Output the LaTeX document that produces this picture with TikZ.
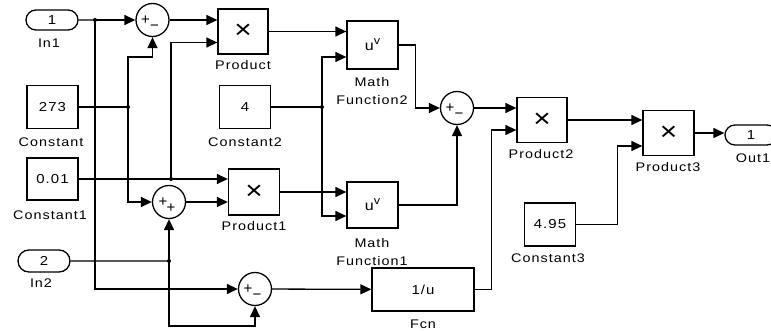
\documentclass[tikz,border=0pt]{standalone}
\usepackage{fontspec}
\setmainfont{Liberation Sans}
\newfontfamily\lf[FakeStretch=1.15,LetterSpace=8]{Liberation Sans}
\usetikzlibrary{arrows.meta,shapes.misc,calc}
\begin{document}
\begin{tikzpicture}[x=1pt,y=-1pt,
 line width=1.3pt,
 blk/.style={draw,rectangle,inner sep=0,minimum width=51pt,minimum height=44pt,font=\lf\fontsize{13}{15}\selectfont},
 sumc/.style={draw,circle,minimum size=33pt,inner sep=0,font=\fontsize{15}{15}\selectfont},
 port/.style={draw,rounded rectangle,minimum width=52pt,minimum height=20pt,inner sep=0,font=\lf\fontsize{13}{15}\selectfont},
 lbl/.style={font=\lf\fontsize{12.5}{18}\selectfont,align=center,inner sep=0},
 arr/.style={-{Triangle[length=11pt,width=10pt]}},
 dot/.style={circle,fill,inner sep=0,minimum size=4pt}
]
\useasboundingbox (0,0) rectangle (771,331);
\clip (0,0) rectangle (771,331);
\newcommand{\tms}{{\fontsize{26}{26}\selectfont ×}}
\newcommand{\uv}{{\fontsize{14}{14}\selectfont u\raisebox{6pt}{\fontsize{11}{11}\selectfont v}}}
\newcommand{\pmsign}{\rule{0pt}{15pt}\hspace*{-5pt}+\raisebox{-6pt}{−}}
\newcommand{\ppsign}{\rule{0pt}{15pt}\hspace*{-4pt}+\hspace*{-1pt}\raisebox{-6pt}{+}}
% ports
\node[port] (in1) at (52,20) {1};
\node[lbl] at (49,43) {In1};
\node[port,minimum height=22pt] (in2) at (44,261) {2};
\node[lbl] at (41,283) {In2};
\node[port] (out) at (751,135) {1};
\node[lbl] at (753,158) {Out1};
% constants
\node[blk,minimum height=43pt] (c0) at (52.5,107) {273};
\node[lbl] at (51,142) {Constant};
\node[blk,minimum height=42pt] (c1) at (52.5,179) {0.01};
\node[lbl] at (50,215) {Constant1};
\node[blk,minimum height=43pt] (c2) at (245,107) {4};
\node[lbl] at (245,142) {Constant2};
\node[blk,minimum height=43pt] (c3) at (550,224.5) {4.95};
\node[lbl] at (548,258) {Constant3};
% sums
\node[sumc] (s1) at (152.5,20) {\pmsign};
\node[sumc] (s2) at (169,202) {\ppsign};
\node[sumc] (s3) at (255,289) {\pmsign};
\node[sumc] (s4) at (457,108) {\pmsign};
% products and functions
\node[blk,minimum width=50pt,minimum height=45pt] (p) at (243,31.5) {\tms};
\node[lbl] at (243,65) {Product};
\node[blk,minimum height=46pt] (p1) at (254,192) {\tms};
\node[lbl] at (254,226) {Product1};
\node[blk,minimum height=48pt] (mf2) at (372.5,45) {\uv};
\node[lbl] at (372,91) {Math\\Function2};
\node[blk,minimum height=46pt] (mf1) at (372.5,205) {\uv};
\node[lbl] at (372,252) {Math\\Function1};
\node[blk,minimum width=102pt,minimum height=43pt] (fcn) at (423,289.5) {1/u};
\node[lbl] at (423,324) {Fcn};
\node[blk,minimum width=50pt,minimum height=45pt] (p2) at (542,120) {\tms};
\node[lbl] at (541,154) {Product2};
\node[blk,minimum height=45pt] (p3) at (668.5,133) {\tms};
\node[lbl] at (668,167) {Product3};
% junctions
\coordinate (j1) at (95,20);
\coordinate (j2) at (128,107);
\coordinate (k1) at (128,57);
\coordinate (j3) at (171,179);
\coordinate (j4) at (169,261);
\coordinate (k2) at (169,326);
\coordinate (j5) at (322,107);
\foreach \j in {j1,j2,j3,j4,j5} \node[dot] at (\j) {};
% connectors
\draw (in1) -- (j1);
\draw[arr] (j1) -- (s1);
\draw[arr] (j1) |- (s3);
\draw (c0) -- (j2);
\draw[arr] (j2) -- (k1) -| (s1);
\draw[arr] (j2) |- (s2);
\draw[arr] (c1) -- (p1.west |- c1);
\draw[arr] (j3) |- ([yshift=-11pt]p.west);
\draw[arr] (s2) -- (p1.west |- s2);
\draw (in2) -- (j4);
\draw[arr] (j4) -- (s2);
\draw[arr] (j4) -- (k2) -| (s3);
\draw[arr] (s3) -- (fcn);
\draw[arr] (s1) -- (p.west |- s1);
\draw[arr] (p) -- (mf2.west |- p);
\draw (c2) -- (j5);
\draw[arr] (j5) |- ([yshift=-12pt]mf2.west);
\draw[arr] (j5) |- ([yshift=-11pt]mf1.west);
\draw[arr] (p1) -- (mf1.west |- p1);
\draw[arr] (mf2.east) -- ++(17,0) |- (s4);
\draw[arr] (mf1) -| (s4);
\draw[arr] (s4) -- (p2.west |- s4);
\draw[arr] (fcn.east) -- ++(17,0) |- ([yshift=-10pt]p2.west);
\draw[arr] (p2) -- (p3.west |- p2);
\draw[arr] (c3.east) -- ++(41,0) |- ([yshift=-13pt]p3.west);
\draw[arr] (p3) -- (out.west |- p3);
\end{tikzpicture}
\end{document}
